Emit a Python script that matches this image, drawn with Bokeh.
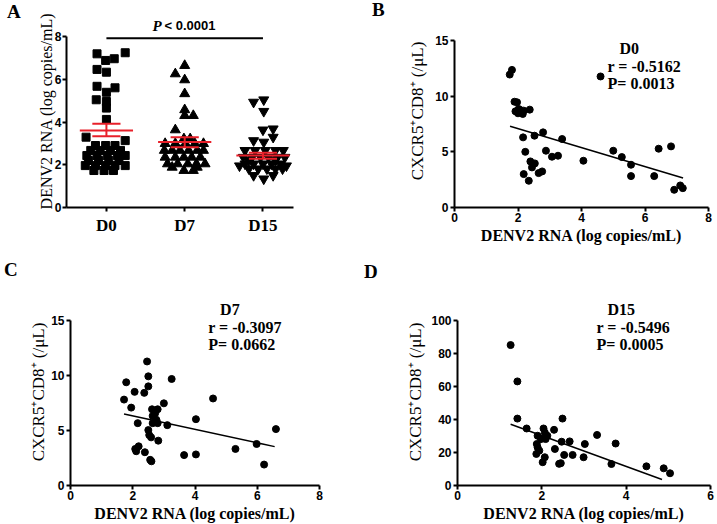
from bokeh.plotting import figure
from bokeh.models import Label, FixedTicker, Range1d, Div
from bokeh.layouts import row, column
from bokeh.embed import file_html
from bokeh.resources import INLINE

SERIF = "Liberation Serif"
SANS = "Liberation Sans"
RED = "#e8202a"

# ---------------- Panel A data ----------------
cats = ["D0", "D7", "D15"]
d0_vals = [7.19, 6.88, 6.96, 7.24, 6.46, 6.33, 5.67, 5.39, 5.60, 5.04, 4.96, 4.65, 4.12, 3.29, 3.13,
           2.90, 2.90, 2.90, 2.67, 2.67, 2.67, 2.67, 2.43, 2.43, 2.43, 2.43, 2.43,
           2.20, 2.20, 2.20, 2.20, 1.96, 1.96, 1.96, 1.96, 1.96, 1.73, 1.73, 1.73]
d0_off = [-0.12, -0.01, 0.10, 0.24, -0.12, 0.00, -0.12, 0.00, 0.11, -0.13, 0.00, 0.00, 0.00, -0.26, 0.24,
          -0.14, -0.01, 0.11, -0.20, -0.08, 0.05, 0.18, -0.25, -0.12, 0.01, 0.14, 0.24,
          -0.23, -0.10, 0.03, 0.16, -0.27, -0.14, -0.01, 0.11, 0.24, -0.16, -0.03, 0.09]
d7_vals = [6.64, 6.25, 5.97, 5.32, 4.57, 4.30, 4.30, 3.63,
           3.21, 3.21, 2.99, 2.99, 2.99, 2.99, 2.99, 2.67, 2.67, 2.67, 2.67, 2.67, 2.67,
           2.35, 2.35, 2.35, 2.35, 2.35, 2.04, 2.04, 2.04, 2.04, 2.04, 1.88, 1.88, 1.73, 1.73]
d7_off = [0.00, -0.12, 0.00, 0.00, 0.00, 0.00, 0.11, -0.12,
          -0.01, 0.07, -0.25, -0.12, 0.01, 0.13, 0.24, -0.26, -0.16, -0.06, 0.05, 0.16, 0.24,
          -0.25, -0.12, -0.01, 0.09, 0.20, -0.22, -0.09, 0.04, 0.15, 0.26, -0.16, 0.16, -0.01, 0.11]
d15_vals = [4.93, 5.04, 4.50, 3.63, 3.68, 3.29, 3.13, 3.06,
            2.67, 2.67, 2.67, 2.67, 2.67, 2.35, 2.35, 2.35, 2.35, 2.35, 2.35,
            2.20, 2.20, 2.04, 2.04, 2.04, 2.04, 2.04, 1.95, 1.95,
            1.81, 1.81, 1.81, 1.81, 1.81, 1.50, 1.50, 1.34]
d15_off = [-0.12, 0.01, 0.01, 0.00, 0.13, 0.13, -0.12, 0.01,
           -0.23, -0.10, 0.03, 0.16, 0.26, -0.25, -0.14, -0.03, 0.07, 0.18, 0.28,
           -0.18, 0.16, -0.23, -0.12, 0.00, 0.11, 0.22, -0.30, 0.30,
           -0.18, -0.06, 0.05, 0.16, 0.25, -0.12, 0.13, 0.01]
means = [3.60, 3.06, 2.43]
sem_hi = [3.92, 3.29, 2.56]
sem_lo = [3.33, 2.82, 2.28]
p_line_y = 7.92

# ---------------- Panel B data (D0) ----------------
b_x = [1.74, 1.81, 4.60, 1.89, 1.97, 1.92, 2.00, 2.07, 2.15, 2.02, 2.18, 2.37, 2.16, 2.52, 2.79, 3.39,
       2.23, 2.88, 3.07, 3.26, 2.39, 2.53, 2.44, 2.18, 2.34, 2.65, 2.76, 4.06, 5.00, 5.27, 5.56, 5.56,
       6.29, 6.43, 6.82, 7.11, 7.19, 6.92]
b_y = [11.94, 12.36, 11.77, 9.50, 9.45, 8.64, 8.46, 8.76, 8.40, 8.85, 8.70, 8.79, 6.30, 6.45, 6.75, 6.15,
       5.00, 5.10, 4.56, 4.65, 4.14, 3.96, 3.60, 3.00, 2.40, 3.09, 3.24, 4.20, 5.10, 4.53, 3.84, 2.82,
       2.82, 5.28, 5.49, 1.98, 1.74, 1.59]
b_fit_x = [1.75, 7.20]
b_fit_y = [7.29, 2.65]

# ---------------- Panel C data (D7) ----------------
c_x = [2.46, 2.50, 1.79, 2.50, 2.06, 2.37, 3.25, 1.72, 1.95, 3.00, 2.62, 2.80, 2.72, 2.64, 2.76, 2.64,
       2.80, 3.11, 2.16, 4.03, 2.50, 2.53, 2.59, 2.82, 2.19, 2.08, 2.11, 2.39, 2.56, 2.60, 3.65, 4.03,
       4.58, 5.30, 5.98, 6.60, 6.22]
c_y = [11.26, 9.91, 9.37, 9.00, 8.50, 8.41, 9.67, 7.80, 7.07, 7.46, 6.92, 6.92, 6.56, 6.32, 5.96, 5.66,
       5.66, 5.48, 5.66, 6.02, 5.03, 4.58, 4.37, 4.07, 3.56, 3.32, 3.11, 3.02, 2.33, 2.20, 2.76, 2.82,
       7.90, 3.32, 3.77, 5.12, 1.90]
c_fit_x = [1.72, 6.56]
c_fit_y = [6.50, 3.53]

# ---------------- Panel D data (D15) ----------------
d_x = [1.26, 1.42, 1.42, 2.49, 1.64, 2.04, 2.07, 2.29, 2.13, 1.90, 1.98, 1.88, 2.09, 2.47, 2.66, 1.90,
       1.94, 1.87, 2.07, 2.02, 2.31, 2.53, 2.73, 2.99, 2.45, 2.41, 3.02, 3.31, 3.75, 3.65, 4.48, 4.89, 5.04]
d_y = [85.0, 63.0, 40.5, 40.5, 34.5, 34.5, 32.1, 33.7, 30.1, 30.1, 28.1, 25.1, 28.1, 26.5, 26.7, 23.1,
       21.1, 19.1, 17.1, 14.1, 22.1, 18.5, 18.5, 17.1, 13.5, 13.1, 25.1, 30.6, 25.4, 13.0, 11.6, 10.4, 7.4]
d_fit_x = [1.26, 4.85]
d_fit_y = [37.1, 3.6]

x_title = "DENV2 RNA (log copies/mL)"
y_title_cd8 = "CXCR5\u207aCD8\u207a (/\u03bcL)"


def make_fig(page_x, page_y, w, h, left, right, top, bottom, xr, yr):
    p = figure(width=w, height=h, x_range=Range1d(*xr), y_range=Range1d(*yr),
               output_backend="svg", toolbar_location=None,
               min_border_left=left, min_border_right=right,
               min_border_top=top, min_border_bottom=bottom)
    p.title.visible = False
    p.outline_line_color = None
    p.xgrid.visible = False
    p.ygrid.visible = False
    p.background_fill_color = "white"
    p.border_fill_color = "white"
    for ax in p.axis:
        ax.axis_line_width = 2
        ax.axis_line_color = "black"
        ax.major_tick_line_width = 2
        ax.major_tick_line_color = "black"
        ax.major_tick_out = 4
        ax.major_tick_in = 0
        ax.minor_tick_line_color = None
        ax.major_label_text_font = SANS
        ax.major_label_text_font_style = "bold"
        ax.major_label_text_font_size = "12px"
        ax.major_label_text_color = "black"
        ax.major_label_standoff = 2
        ax.axis_label_text_color = "black"
        ax.axis_label_text_font = SERIF
    p._geo = (page_x + left, page_y + top, w - left - right, h - top - bottom)
    return p


def put(p, page_x, page_y, text, size, style="bold", font=SERIF):
    fl, ft, fw, fh = p._geo
    xr, yr = p.x_range, p.y_range
    x = xr.start + (page_x - fl) / fw * (xr.end - xr.start)
    y = yr.end - (page_y - ft) / fh * (yr.end - yr.start)
    p.add_layout(Label(x=x, y=y, text=text, text_font=font, text_font_size=f"{size}px",
                       text_font_style=style, text_align="left", text_baseline="middle",
                       text_color="black"))


def letter(ch, w, h, ml, mt):
    html = ('<div style="font-family:\'Liberation Serif\'; font-weight:bold; font-size:19px; '
            f'line-height:19px; color:black; margin-left:{ml}px; margin-top:{mt}px;">{ch}</div>')
    return Div(text=html, width=w, height=h, margin=(0, 0, 0, 0))


# ---------------- Panel A ----------------
pa = make_fig(26, 0, 334, 250, 40, 67, 14, 43, (0.49, 3.39), (0, 193 / 21.375))
pos = list(range(1, len(cats) + 1))
pa.xaxis.ticker = FixedTicker(ticks=pos)
pa.xaxis.major_label_overrides = {i: c for i, c in zip(pos, cats)}
pa.xaxis.major_label_text_font = SERIF
pa.xaxis.major_label_text_font_size = "17px"
pa.xaxis.major_label_standoff = 4
pa.yaxis.ticker = FixedTicker(ticks=[0, 2, 4, 6, 8])
pa.yaxis.bounds = (0, 8)
pa.yaxis.axis_label = x_title
pa.yaxis.axis_label_text_font_size = "16px"
pa.yaxis.axis_label_text_font_style = "normal"
pa.yaxis.axis_label_standoff = -3
pa.yaxis.major_label_standoff = 1

groups = [(d0_vals, d0_off, "square", 8), (d7_vals, d7_off, "triangle", 10),
          (d15_vals, d15_off, "inverted_triangle", 10)]
for (vals, offs, mk, sz), c in zip(groups, pos):
    pa.scatter([c + o for o in offs], vals, marker=mk, size=sz, color="black")

pa.segment(x0=[c - 0.34 for c in pos], x1=[c + 0.34 for c in pos], y0=means, y1=means,
           line_color=RED, line_width=2)
pa.segment(x0=[c - 0.18 for c in pos], x1=[c + 0.18 for c in pos], y0=sem_hi, y1=sem_hi,
           line_color=RED, line_width=2)
pa.segment(x0=[c - 0.18 for c in pos], x1=[c + 0.18 for c in pos], y0=sem_lo, y1=sem_lo,
           line_color=RED, line_width=2)
pa.segment(x0=pos, x1=pos, y0=sem_lo, y1=sem_hi, line_color=RED, line_width=2)
pa.segment(x0=[pos[0]], x1=[pos[2]], y0=[p_line_y], y1=[p_line_y], line_color="black", line_width=2)

put(pa, 152, 25, "P", 15, style="bold italic")
put(pa, 164, 25, "< 0.0001", 13, font=SANS)


def scatter_panel(page_x, page_y, w, h, left, right, top, bottom, xr, yr, ybound, xt, yt,
                  xs, ys, fx, fy, ystand):
    p = make_fig(page_x, page_y, w, h, left, right, top, bottom, xr, yr)
    p.xaxis.ticker = FixedTicker(ticks=xt)
    p.yaxis.ticker = FixedTicker(ticks=yt)
    p.yaxis.bounds = ybound
    p.xaxis.axis_label = x_title
    p.xaxis.axis_label_text_font_size = "16px"
    p.xaxis.axis_label_text_font_style = "bold"
    p.xaxis.axis_label_standoff = 2
    p.xaxis.major_label_standoff = 1
    p.yaxis.axis_label = y_title_cd8
    p.yaxis.axis_label_text_font_size = "17px"
    p.yaxis.axis_label_text_font_style = "normal"
    p.yaxis.axis_label_standoff = ystand
    p.scatter(xs, ys, marker="circle", size=7, color="black")
    p.line(fx, fy, line_color="black", line_width=1.5)
    return p


# B frame shares A's top/bottom borders (row alignment); axis kept to 0-15 via bounds
pb = scatter_panel(390, 0, 327, 250, 64, 9, 14, 43, (0, 8), (0, 15 * 193 / 167), (0, 15),
                   [0, 2, 4, 6, 8], [0, 5, 10, 15], b_x, b_y, b_fit_x, b_fit_y, 5)
put(pb, 619, 48, "D0", 16)
put(pb, 607, 66, "r = -0.5162", 16)
put(pb, 607, 83, "P= 0.0013", 16)

pc = scatter_panel(26, 250, 334, 274, 40, 41, 48, 37, (0, 8), (0, 15 * 189 / 167), (0, 15),
                   [0, 2, 4, 6, 8], [0, 5, 10, 15], c_x, c_y, c_fit_x, c_fit_y, 0)
put(pc, 218, 309, "D7", 16)
put(pc, 206, 327, "r = -0.3097", 16)
put(pc, 206, 344, "P= 0.0662", 16)

pd = scatter_panel(390, 250, 327, 274, 67, 7, 48, 37, (0, 6), (0, 100 * 189 / 167), (0, 100),
                   [0, 2, 4, 6], [0, 20, 40, 60, 80, 100], d_x, d_y, d_fit_x, d_fit_y, 3)
put(pd, 607, 309, "D15", 16)
put(pd, 596, 327, "r = -0.5496", 16)
put(pd, 596, 344, "P= 0.0005", 16)

row1 = row(letter("A", 26, 250, 7, 2), pa, letter("B", 30, 250, 12, 0), pb)
row2 = row(letter("C", 26, 274, 4, 10), pc, letter("D", 30, 274, 4, 12), pd)
layout = column(row1, row2)
open("out.html", "w").write(file_html(layout, INLINE))
